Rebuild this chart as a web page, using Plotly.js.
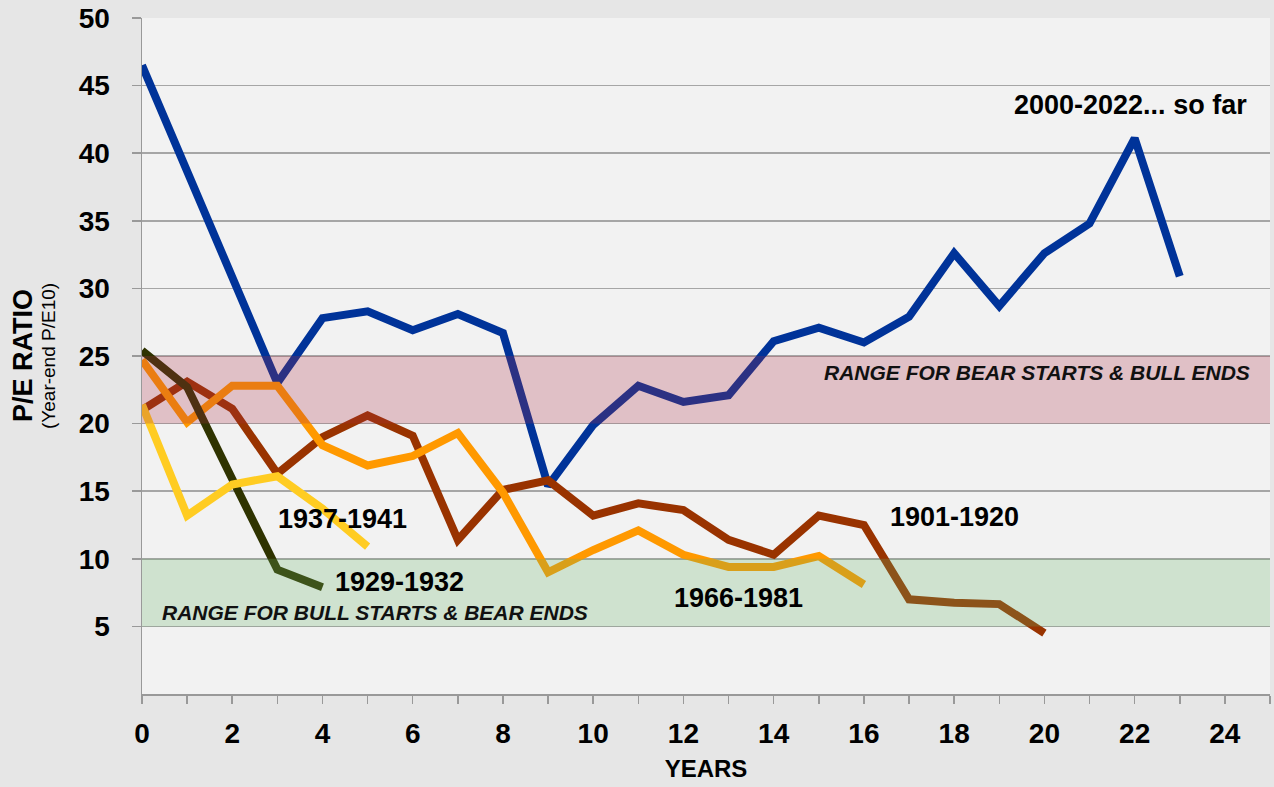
<!DOCTYPE html>
<html>
<head>
<meta charset="utf-8">
<script src="https://cdn.plot.ly/plotly-3.0.1.min.js"></script>
<style>html,body{margin:0;padding:0;background:#e6e6e6;}#chart{width:1274px;height:787px;}</style>
</head>
<body>
<div id="chart"></div>
<script>
// Years since start of secular period
const years2000 = [0,1,2,3,4,5,6,7,8,9,10,11,12,13,14,15,16,17,18,19,20,21,22,23];
const pe2000 = [46.5,38.7,30.8,23.0,27.8,28.3,26.9,28.1,26.7,15.4,19.9,22.8,21.6,22.1,26.1,27.1,26.0,27.9,32.6,28.7,32.6,34.8,41.1,30.9];

const years1901 = [0,1,2,3,4,5,6,7,8,9,10,11,12,13,14,15,16,17,18,19,20];
const pe1901 = [21.0,23.1,21.1,16.3,19.0,20.6,19.1,11.4,15.1,15.8,13.2,14.1,13.6,11.4,10.3,13.2,12.5,7.0,6.75,6.65,4.5];

const years1966 = [0,1,2,3,4,5,6,7,8,9,10,11,12,13,14,15,16];
const pe1966 = [24.7,20.1,22.8,22.8,18.4,16.9,17.6,19.3,14.9,9.0,10.65,12.1,10.3,9.4,9.4,10.2,8.1];

const years1929 = [0,1,2,3,4];
const pe1929 = [25.4,22.7,15.9,9.2,7.9];

const years1937 = [0,1,2,3,4,5];
const pe1937 = [21.4,13.2,15.5,16.1,13.7,10.9];

const seriesNames = ["2000-2022... so far","1901-1920","1966-1981","1929-1932","1937-1941"];
const seriesColors = ["#003399","#993300","#ff9900","#2f3300","#ffcc22"];

// Valuation bands [low, high]
const bearBand = [20,25];
const bullBand = [5,10];
const bearBandLabel = "RANGE FOR BEAR STARTS &amp; BULL ENDS";
const bullBandLabel = "RANGE FOR BULL STARTS &amp; BEAR ENDS";

const xTickVals = [0,2,4,6,8,10,12,14,16,18,20,22,24];
const yTickVals = [5,10,15,20,25,30,35,40,45,50];

const xs = [years2000, years1901, years1966, years1929, years1937];
const ys = [pe2000, pe1901, pe1966, pe1929, pe1937];

const traces = xs.map((x, i) => ({
  type: 'scatter', mode: 'lines', x: x, y: ys[i], name: seriesNames[i],
  line: {color: seriesColors[i], width: 8, shape: 'linear'},
  hoverinfo: 'x+y+name', showlegend: false
}));

const FONT = 'Liberation Sans, Arial, sans-serif';
const labelFont = {family: FONT, size: 27, color: '#000'};
const bandFont = {family: FONT, size: 21, color: '#111'};

const layout = {
  width: 1274, height: 787,
  paper_bgcolor: '#e6e6e6', plot_bgcolor: '#f2f2f2',
  margin: {l: 142, r: 4, t: 18, b: 93},
  showlegend: false,
  xaxis: {
    range: [0, 25], tickvals: xTickVals,
    ticks: 'outside', ticklen: 8, tickcolor: '#999', tickwidth: 1.5,
    minor: {dtick: 1, ticks: 'outside', ticklen: 8, tickcolor: '#999', tickwidth: 1.5, showgrid: false},
    showgrid: false, zeroline: false, showline: true, linecolor: '#999', linewidth: 1.5,
    ticklabelstandoff: 6,
    tickfont: {family: FONT, size: 28, color: '#000', weight: 'bold'},
    title: {text: '<b>YEARS</b>', font: {family: FONT, size: 24, color: '#000'}, standoff: 12}
  },
  yaxis: {
    range: [0, 50], tickvals: yTickVals,
    ticks: 'outside', ticklen: 9, tickcolor: '#999', tickwidth: 1.5,
    showgrid: true, gridcolor: '#a6a6a6', gridwidth: 1.5,
    zeroline: false, showline: true, linecolor: '#999', linewidth: 1.5,
    ticklabelstandoff: 16,
    tickfont: {family: FONT, size: 28, color: '#000', weight: 'bold'}
  },
  shapes: [
    {type: 'rect', xref: 'paper', yref: 'y', x0: 0, x1: 1, y0: bearBand[0], y1: bearBand[1], fillcolor: 'rgba(170,42,66,0.25)', line: {width: 0}, layer: 'above'},
    {type: 'rect', xref: 'paper', yref: 'y', x0: 0, x1: 1, y0: bullBand[0], y1: bullBand[1], fillcolor: 'rgba(102,178,102,0.25)', line: {width: 0}, layer: 'above'}
  ],
  annotations: [
    {x: 0, y: 0.5, xref: 'paper', yref: 'paper', xanchor: 'center', yanchor: 'middle', xshift: -119, textangle: -90, text: '<b>P/E RATIO</b>', showarrow: false, font: {family: FONT, size: 27, color: '#000'}},
    {x: 0, y: 0.5, xref: 'paper', yref: 'paper', xanchor: 'center', yanchor: 'middle', xshift: -94, yshift: 0, textangle: -90, text: '(Year-end P/E10)', showarrow: false, font: {family: FONT, size: 19, color: '#000'}},
    {x: 21.9, y: 43.6, xref: 'x', yref: 'y', text: '<b>' + seriesNames[0] + '</b>', showarrow: false, font: labelFont},
    {x: 18.0, y: 13.1, xref: 'x', yref: 'y', text: '<b>' + seriesNames[1] + '</b>', showarrow: false, font: labelFont},
    {x: 13.23, y: 7.1, xref: 'x', yref: 'y', text: '<b>' + seriesNames[2] + '</b>', showarrow: false, font: labelFont},
    {x: 5.7, y: 8.28, xref: 'x', yref: 'y', text: '<b>' + seriesNames[3] + '</b>', showarrow: false, font: labelFont},
    {x: 4.45, y: 12.95, xref: 'x', yref: 'y', text: '<b>' + seriesNames[4] + '</b>', showarrow: false, font: labelFont},
    {x: 0.984, y: 23.8, xref: 'paper', yref: 'y', xanchor: 'right', text: '<b><i>' + bearBandLabel + '</i></b>', showarrow: false, font: bandFont},
    {x: 0.4, y: 6.06, xref: 'x', yref: 'y', xanchor: 'left', text: '<b><i>' + bullBandLabel + '</i></b>', showarrow: false, font: bandFont}
  ]
};

Plotly.newPlot('chart', traces, layout, {displayModeBar: false, staticPlot: true});
</script>
</body>
</html>
